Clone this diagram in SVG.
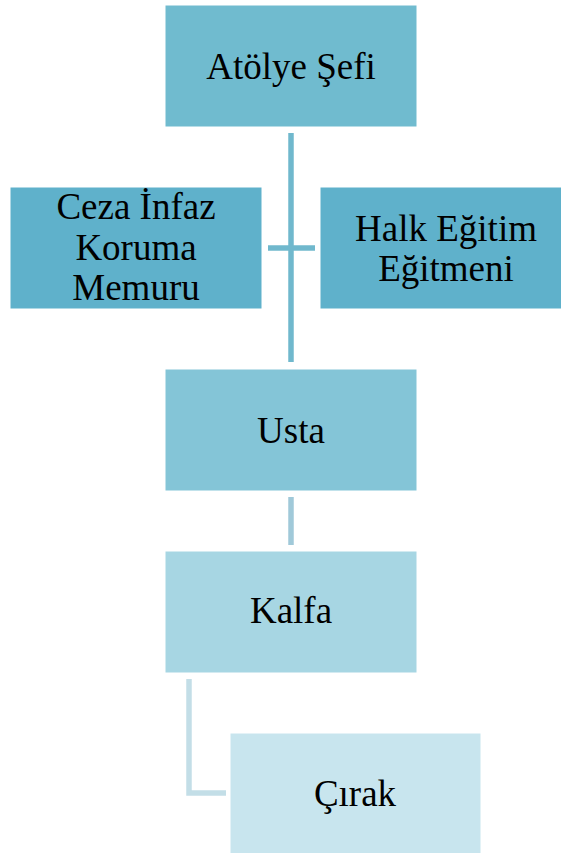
<svg xmlns="http://www.w3.org/2000/svg" width="561" height="853" viewBox="0 0 561 853">
<style>
  .box { stroke: #ffffff; stroke-width: 1; }
  .lbl { font-family: "Liberation Serif", "Times New Roman", serif; font-size: 37px; fill: #000000; text-anchor: middle; }
  .conn { fill: none; stroke-linecap: butt; }
</style>
<rect width="561" height="853" fill="#ffffff"/>
<g id="connectors">
  <line class="conn" x1="291" y1="133" x2="291" y2="362" stroke="#70B8CD" stroke-width="5.5"/>
  <line class="conn" x1="268" y1="248" x2="315" y2="248" stroke="#70B8CD" stroke-width="5.5"/>
  <line class="conn" x1="291" y1="497" x2="291" y2="545" stroke="#A0C9D9" stroke-width="5.5"/>
  <path class="conn" d="M189 679 V793 H226" stroke="#C3DEE7" stroke-width="5.5"/>
</g>
<g id="atolye-sefi">
  <rect class="box" x="165" y="5" width="252" height="122" fill="#70BBCF"/>
  <text class="lbl" x="291" y="79">Atölye Şefi</text>
</g>
<g id="ceza-infaz">
  <rect class="box" x="10" y="187" width="252" height="122" fill="#5FB1CB"/>
  <text class="lbl" x="136" y="219">Ceza İnfaz</text>
  <text class="lbl" x="136" y="260">Koruma</text>
  <text class="lbl" x="136" y="300">Memuru</text>
</g>
<g id="halk-egitim">
  <rect class="box" x="320" y="187" width="252" height="122" fill="#5FB1CB"/>
  <text class="lbl" x="446" y="241">Halk Eğitim</text>
  <text class="lbl" x="446" y="281">Eğitmeni</text>
</g>
<g id="usta">
  <rect class="box" x="165" y="369" width="252" height="122" fill="#84C5D7"/>
  <text class="lbl" x="291" y="443">Usta</text>
</g>
<g id="kalfa">
  <rect class="box" x="165" y="551" width="252" height="122" fill="#A7D6E3"/>
  <text class="lbl" x="291" y="623">Kalfa</text>
</g>
<g id="cirak">
  <rect class="box" x="230" y="733" width="251" height="121" fill="#C8E5EE"/>
  <text class="lbl" x="355" y="806">Çırak</text>
</g>
</svg>
